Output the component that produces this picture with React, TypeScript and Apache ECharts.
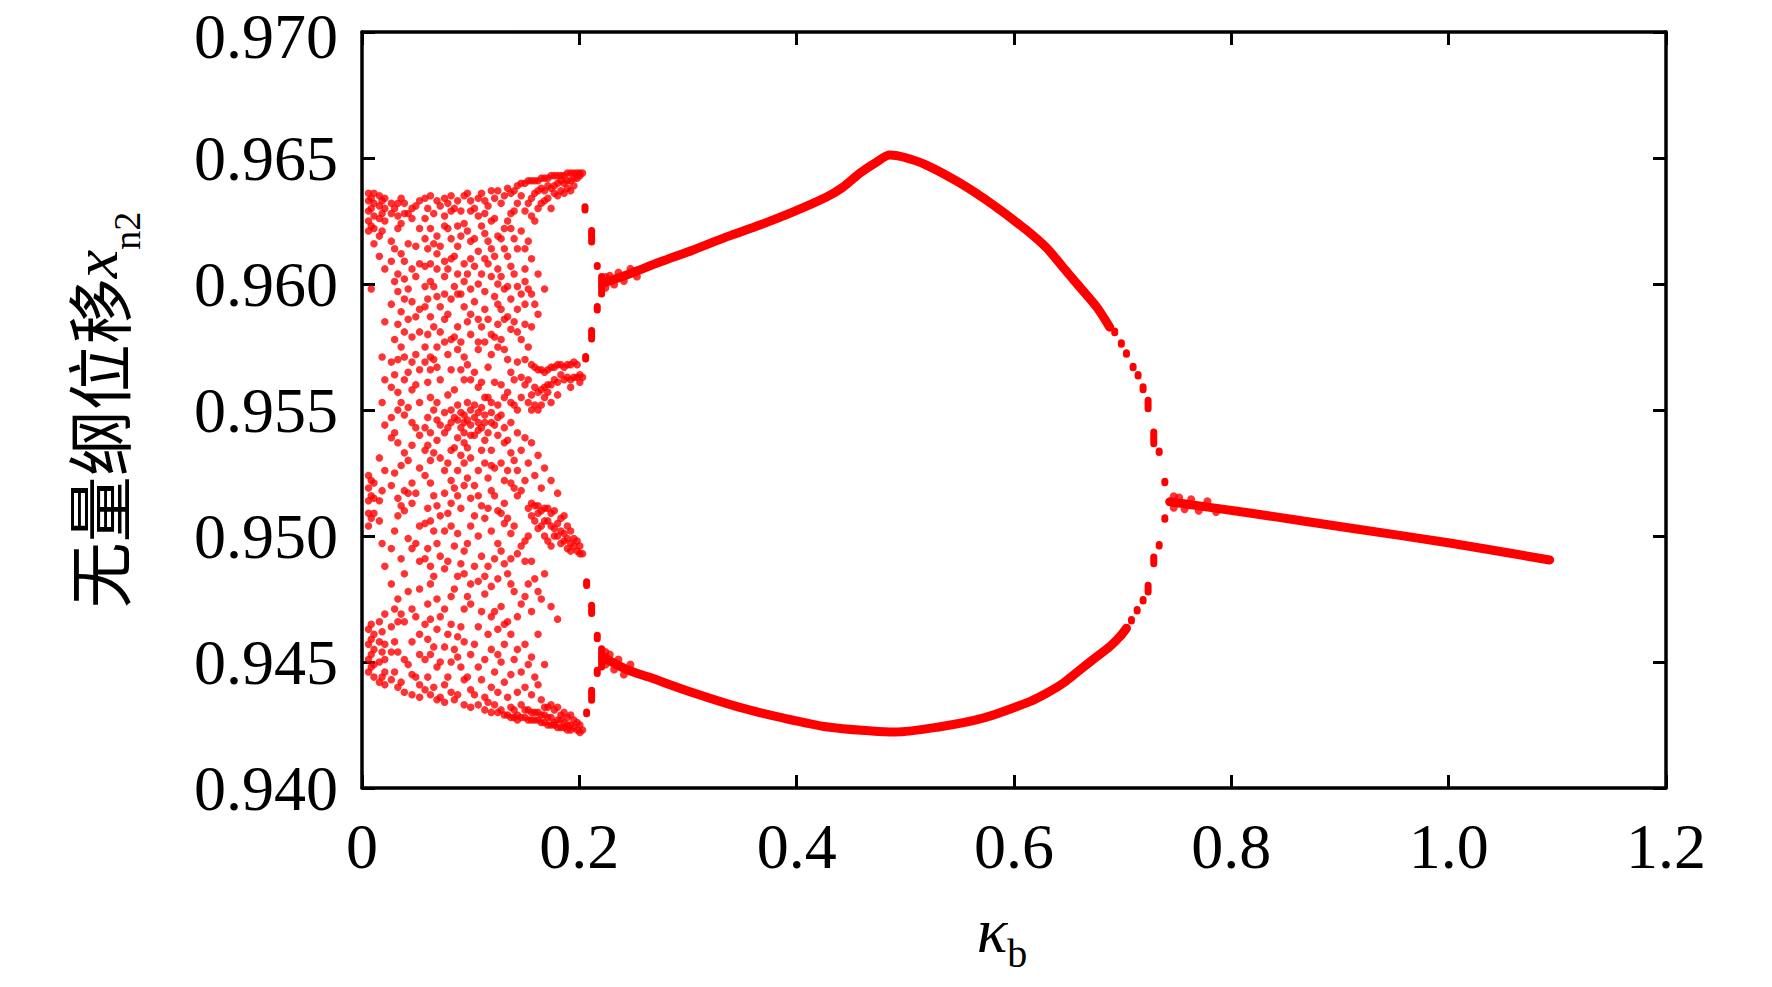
import React, { useEffect, useRef } from "react";
import * as echarts from "echarts";

// ---- axes ----
const xMin = 0;
const xMax = 1.2;
const xStep = 0.2;
const yMin = 0.94;
const yMax = 0.97;
const yStep = 0.005;

// ---- chaotic region: parameter values (columns) and the sampled x_n2 values ----
const chaosX = [
  0.006, 0.011, 0.016, 0.021, 0.027, 0.033, 0.039, 0.046, 0.053, 0.058, 0.063, 0.069,
  0.076, 0.082, 0.088, 0.094, 0.1, 0.107, 0.113, 0.119, 0.125, 0.131, 0.137, 0.143,
  0.15, 0.156, 0.162, 0.168, 0.174, 0.18, 0.186, 0.192, 0.198, 0.203,
];
const chaosY = [
  [0.9636, 0.9633, 0.9629, 0.9625, 0.9621, 0.9524, 0.9519, 0.9514, 0.9509, 0.9504, 0.9463, 0.9457, 0.9451, 0.9446],
  [0.9636, 0.9632, 0.9627, 0.9622, 0.9616, 0.9521, 0.9515, 0.9509, 0.9461, 0.9455, 0.9449, 0.9444],
  [0.9635, 0.9631, 0.9626, 0.9619, 0.9611, 0.9531, 0.9514, 0.9506, 0.9466, 0.9458, 0.945, 0.9442],
  [0.9634, 0.963, 0.9625, 0.9606, 0.9585, 0.9562, 0.9544, 0.9526, 0.9488, 0.9469, 0.9457, 0.9451, 0.9446, 0.9441],
  [0.9632, 0.9628, 0.9617, 0.9609, 0.9592, 0.9569, 0.9559, 0.9547, 0.9539, 0.952, 0.9495, 0.9481, 0.9464, 0.9454, 0.9443],
  [0.9632, 0.9627, 0.9622, 0.9604, 0.9597, 0.9584, 0.957, 0.9557, 0.955, 0.9537, 0.9515, 0.9508, 0.9475, 0.9466, 0.9454, 0.944],
  [0.9632, 0.9628, 0.9609, 0.9602, 0.9594, 0.9581, 0.9571, 0.9562, 0.9548, 0.9533, 0.9518, 0.951, 0.9485, 0.9466, 0.9451, 0.9438],
  [0.963, 0.9626, 0.9606, 0.9593, 0.9579, 0.9569, 0.9558, 0.9545, 0.9536, 0.9521, 0.9513, 0.9495, 0.9471, 0.9458, 0.9445, 0.9437],
  [0.9633, 0.9622, 0.9608, 0.959, 0.9581, 0.9566, 0.9553, 0.954, 0.9527, 0.9504, 0.949, 0.9479, 0.9461, 0.9453, 0.9441, 0.9436],
  [0.9634, 0.9626, 0.9618, 0.9607, 0.9599, 0.9591, 0.9575, 0.9569, 0.9543, 0.9534, 0.9524, 0.9505, 0.9491, 0.9465, 0.9451, 0.9439],
  [0.9635, 0.9622, 0.9608, 0.9601, 0.9587, 0.9571, 0.9566, 0.9555, 0.9541, 0.953, 0.9521, 0.9506, 0.9488, 0.9481, 0.9467, 0.9453, 0.9437],
  [0.9633, 0.9619, 0.9612, 0.9606, 0.9595, 0.9575, 0.9567, 0.9553, 0.9546, 0.9538, 0.9512, 0.9497, 0.9475, 0.9463, 0.9448, 0.9435],
  [0.9634, 0.9627, 0.9623, 0.9609, 0.9603, 0.9596, 0.9586, 0.9577, 0.9549, 0.9541, 0.9526, 0.9517, 0.9502, 0.9487, 0.9471, 0.9456, 0.9441, 0.9434],
  [0.9635, 0.9629, 0.9618, 0.961, 0.9594, 0.9578, 0.9566, 0.955, 0.9545, 0.9534, 0.9522, 0.9513, 0.9504, 0.9476, 0.9465, 0.945, 0.9438],
  [0.9633, 0.9623, 0.9615, 0.9604, 0.9596, 0.9583, 0.9574, 0.9552, 0.9546, 0.9539, 0.9526, 0.9516, 0.9501, 0.9484, 0.946, 0.9452, 0.9437],
  [0.9635, 0.9624, 0.9608, 0.9601, 0.9591, 0.9571, 0.9562, 0.9548, 0.9545, 0.9541, 0.9537, 0.9529, 0.952, 0.9494, 0.9485, 0.9471, 0.9458, 0.9443, 0.9433],
  [0.9633, 0.9629, 0.9617, 0.961, 0.9598, 0.9588, 0.958, 0.9562, 0.955, 0.9544, 0.954, 0.9531, 0.9515, 0.9504, 0.9481, 0.9473, 0.9453, 0.9439, 0.9432],
  [0.9634, 0.9627, 0.9613, 0.96, 0.9586, 0.9577, 0.9574, 0.9559, 0.9549, 0.9545, 0.9542, 0.9526, 0.9516, 0.95, 0.9482, 0.9464, 0.9448, 0.9433],
  [0.9633, 0.9628, 0.962, 0.961, 0.9597, 0.959, 0.9577, 0.9555, 0.9548, 0.9545, 0.9538, 0.9529, 0.9507, 0.9484, 0.9477, 0.9451, 0.9436, 0.9431],
  [0.9637, 0.9625, 0.9614, 0.9603, 0.958, 0.9572, 0.9553, 0.9549, 0.9545, 0.9534, 0.9528, 0.9518, 0.9502, 0.948, 0.9468, 0.9455, 0.944, 0.943],
  [0.9637, 0.9619, 0.9606, 0.96, 0.9592, 0.9584, 0.9575, 0.9552, 0.9547, 0.954, 0.951, 0.9497, 0.9483, 0.9463, 0.9453, 0.9438, 0.943],
  [0.9635, 0.9622, 0.9614, 0.9598, 0.9586, 0.9574, 0.9555, 0.9543, 0.9537, 0.9522, 0.9513, 0.9505, 0.9489, 0.9465, 0.9457, 0.9442, 0.9429],
  [0.9636, 0.9628, 0.9622, 0.9607, 0.9594, 0.9582, 0.9565, 0.9553, 0.9545, 0.9533, 0.9521, 0.9501, 0.9491, 0.9481, 0.9461, 0.9445, 0.9432, 0.9428],
  [0.9639, 0.9632, 0.9614, 0.9599, 0.959, 0.9581, 0.9569, 0.955, 0.9541, 0.9526, 0.9516, 0.9493, 0.9468, 0.9455, 0.9438, 0.9429, 0.9427],
  [0.964, 0.9629, 0.9614, 0.9606, 0.9601, 0.9592, 0.9584, 0.957, 0.956, 0.9539, 0.9522, 0.9498, 0.949, 0.9476, 0.9457, 0.944, 0.9431, 0.9428],
  [0.9641, 0.9634, 0.9627, 0.961, 0.9596, 0.9583, 0.9568, 0.9556, 0.955, 0.9537, 0.9513, 0.9508, 0.949, 0.947, 0.9452, 0.9437, 0.943, 0.9427],
  [0.9641, 0.9637, 0.963, 0.9604, 0.9588, 0.9566, 0.9557, 0.955, 0.9532, 0.9512, 0.9509, 0.9503, 0.9478, 0.9461, 0.9441, 0.943, 0.9427],
  [0.9642, 0.9637, 0.9633, 0.9598, 0.9565, 0.9559, 0.9555, 0.9527, 0.9511, 0.9506, 0.95, 0.9485, 0.9449, 0.9432, 0.9429, 0.9426],
  [0.9643, 0.9638, 0.963, 0.9567, 0.956, 0.9553, 0.9522, 0.9509, 0.9504, 0.9496, 0.9472, 0.9433, 0.9428, 0.9425],
  [0.9643, 0.964, 0.9635, 0.9568, 0.9561, 0.9556, 0.9517, 0.9505, 0.95, 0.9467, 0.9432, 0.9427, 0.9424],
  [0.9643, 0.964, 0.9636, 0.9567, 0.9562, 0.9508, 0.9501, 0.9498, 0.943, 0.9426, 0.9424],
  [0.9644, 0.9641, 0.9637, 0.9568, 0.9562, 0.9559, 0.9502, 0.9497, 0.9494, 0.9429, 0.9425, 0.9423],
  [0.9644, 0.9642, 0.9568, 0.9563, 0.9498, 0.9494, 0.9426, 0.9423],
  [0.9644, 0.9563, 0.9493, 0.9423],
];

// ---- chaotic region: in-between parameter values ----
const chaosX2 = [
  0.0085, 0.0185, 0.03, 0.036, 0.0425, 0.0495, 0.0605, 0.066, 0.072, 0.079, 0.085, 0.091,
  0.097, 0.1035, 0.11, 0.116, 0.122, 0.128, 0.134, 0.14, 0.1465, 0.153, 0.159, 0.165,
  0.171, 0.177, 0.183, 0.189, 0.195, 0.2005,
];
const chaosY2 = [
  [0.9634, 0.963, 0.9623, 0.9598, 0.9522, 0.9516, 0.9507, 0.9465, 0.9459, 0.9453, 0.9448],
  [0.9633, 0.9628, 0.9621, 0.9571, 0.9553, 0.9518, 0.9497, 0.9462, 0.9454, 0.9444],
  [0.963, 0.9614, 0.9601, 0.9578, 0.9564, 0.9541, 0.9525, 0.9502, 0.9471, 0.9458, 0.9446],
  [0.9634, 0.9624, 0.9612, 0.9589, 0.9575, 0.9553, 0.9528, 0.9512, 0.9491, 0.9469, 0.9442],
  [0.9628, 0.9616, 0.9598, 0.9586, 0.9565, 0.9551, 0.953, 0.9517, 0.9499, 0.9478, 0.9449],
  [0.9631, 0.9615, 0.9603, 0.9587, 0.9572, 0.956, 0.9543, 0.9517, 0.9497, 0.9468, 0.9444],
  [0.963, 0.9614, 0.9594, 0.958, 0.9561, 0.9547, 0.9536, 0.9511, 0.9495, 0.9473, 0.9459, 0.9444],
  [0.9628, 0.9616, 0.9599, 0.9583, 0.957, 0.955, 0.9533, 0.9516, 0.9502, 0.9484, 0.9456, 0.944],
  [0.9631, 0.9615, 0.9591, 0.9581, 0.9562, 0.9544, 0.9531, 0.9508, 0.9492, 0.9468, 0.945, 0.9436],
  [0.9632, 0.9622, 0.9606, 0.9588, 0.9572, 0.9556, 0.9543, 0.9529, 0.9509, 0.949, 0.9461, 0.9444],
  [0.963, 0.9611, 0.9599, 0.9579, 0.9558, 0.9547, 0.9535, 0.9519, 0.9496, 0.9479, 0.9455, 0.9435],
  [0.9629, 0.9619, 0.9596, 0.9577, 0.9566, 0.9549, 0.9543, 0.9532, 0.9511, 0.9489, 0.9464, 0.9448],
  [0.9636, 0.9621, 0.9604, 0.9585, 0.9568, 0.9553, 0.9546, 0.9535, 0.9523, 0.9497, 0.9476, 0.9444],
  [0.963, 0.9618, 0.9607, 0.9593, 0.9565, 0.9552, 0.9547, 0.954, 0.952, 0.9508, 0.9488, 0.9457, 0.9437],
  [0.9636, 0.9623, 0.9604, 0.9583, 0.9561, 0.9551, 0.9543, 0.9534, 0.9512, 0.9492, 0.947, 0.9443],
  [0.9631, 0.9617, 0.9608, 0.9586, 0.9567, 0.9555, 0.9541, 0.9523, 0.9511, 0.9488, 0.9461, 0.9434],
  [0.9634, 0.9626, 0.9611, 0.9595, 0.9579, 0.9561, 0.9544, 0.9527, 0.9516, 0.9491, 0.947, 0.9446, 0.9433],
  [0.9632, 0.9618, 0.9603, 0.959, 0.9578, 0.956, 0.9548, 0.9529, 0.9509, 0.9494, 0.9472, 0.945, 0.9431],
  [0.9638, 0.9625, 0.9611, 0.9599, 0.9587, 0.957, 0.9557, 0.9538, 0.9526, 0.9507, 0.9485, 0.9466, 0.9436, 0.9429],
  [0.9637, 0.9629, 0.9618, 0.9604, 0.9585, 0.9562, 0.9552, 0.953, 0.9519, 0.9504, 0.9478, 0.9451, 0.9431, 0.9428],
  [0.964, 0.9635, 0.9621, 0.9596, 0.9578, 0.9563, 0.9555, 0.9534, 0.9518, 0.9496, 0.9473, 0.9446, 0.9433, 0.9428],
  [0.9641, 0.9632, 0.9617, 0.9598, 0.9575, 0.9562, 0.9553, 0.9529, 0.9511, 0.95, 0.9481, 0.9449, 0.9431, 0.9427],
  [0.9641, 0.9636, 0.9625, 0.9592, 0.9567, 0.9559, 0.9552, 0.9524, 0.9512, 0.9506, 0.9483, 0.9444, 0.943, 0.9427],
  [0.9642, 0.9638, 0.9632, 0.9566, 0.9558, 0.9552, 0.9519, 0.951, 0.9504, 0.9475, 0.9435, 0.9429, 0.9426],
  [0.9642, 0.9639, 0.9634, 0.9566, 0.956, 0.9557, 0.9511, 0.9506, 0.9498, 0.9432, 0.9428, 0.9425],
  [0.9643, 0.9639, 0.9636, 0.9567, 0.9562, 0.951, 0.9503, 0.95, 0.9431, 0.9426, 0.9425],
  [0.9643, 0.9641, 0.9637, 0.9568, 0.9564, 0.9507, 0.9502, 0.9497, 0.9429, 0.9427, 0.9424],
  [0.9644, 0.9641, 0.9638, 0.9568, 0.9563, 0.9504, 0.9499, 0.9495, 0.9428, 0.9425, 0.9423],
  [0.9644, 0.9642, 0.9639, 0.9569, 0.9563, 0.9499, 0.9496, 0.9427, 0.9424],
  [0.9644, 0.9643, 0.9564, 0.9561, 0.9496, 0.9493, 0.9425, 0.9422],
];

// ---- transient scatter hugging the starts of the branches ----
const fuzzX = [
  0.224, 0.224, 0.228, 0.232, 0.236, 0.241, 0.247, 0.253,
  0.224, 0.224, 0.228, 0.232, 0.236, 0.241, 0.247,
  0.747, 0.747, 0.752, 0.757, 0.763, 0.77, 0.778, 0.786,
];
const fuzzY = [
  0.95985, 0.96028, 0.96033, 0.95998, 0.96045, 0.96012, 0.9606, 0.9603,
  0.9454, 0.9449, 0.9453, 0.9447, 0.9451, 0.9445, 0.9449,
  0.95158, 0.95112, 0.95153, 0.95106, 0.95146, 0.951, 0.95138, 0.95095,
];

// ---- period-2 upper branch ----
const upperX = [0.222, 0.2435, 0.2741, 0.3048, 0.3355, 0.3661, 0.3968, 0.4275, 0.4428, 0.4582, 0.4735, 0.4857, 0.498, 0.5194, 0.5501, 0.5808, 0.6114, 0.63, 0.645, 0.6605, 0.676, 0.688];
const upperY = [0.96004, 0.96036, 0.96087, 0.96135, 0.96187, 0.96234, 0.96286, 0.96345, 0.96385, 0.9644, 0.96484, 0.96512, 0.96504, 0.96472, 0.96401, 0.96314, 0.96214, 0.96143, 0.96067, 0.95988, 0.95909, 0.95829];

// ---- period-2 lower branch ----
const lowerX = [0.2215, 0.2438, 0.264, 0.3054, 0.3468, 0.3873, 0.4287, 0.4692, 0.4903, 0.5308, 0.5722, 0.6145, 0.6299, 0.645, 0.6605, 0.676, 0.6881, 0.6973, 0.7035];
const lowerY = [0.9452, 0.9447, 0.9444, 0.94377, 0.94321, 0.94278, 0.94242, 0.94226, 0.94222, 0.94242, 0.94278, 0.94343, 0.94376, 0.94415, 0.94468, 0.94521, 0.94561, 0.946, 0.94634];

// ---- period-1 branch ----
const p1X = [0.7433, 0.8169, 0.9089, 1.0009, 1.0929];
const p1Y = [0.95136, 0.95091, 0.95032, 0.94972, 0.94905];

// ---- sparse samples drawn as short vertical dashes: x, y top, y bottom ----
const dashX = [
  0.2052, 0.2113, 0.2165, 0.2205, 0.2165, 0.2113, 0.2058,
  0.2067, 0.2113, 0.2165, 0.2205, 0.2165, 0.2113, 0.2067,
  0.6927, 0.6988, 0.7035, 0.7096, 0.7142, 0.7188, 0.7234, 0.7286, 0.7336, 0.7388,
  0.7388, 0.7336, 0.7286, 0.7234, 0.7188, 0.7133, 0.7081,
];
const dashTop = [
  0.96307, 0.96212, 0.96073, 0.9603, 0.95911, 0.95815, 0.95712,
  0.94818, 0.94725, 0.94606, 0.94553, 0.94467, 0.94388, 0.94302,
  0.95813, 0.95767, 0.95727, 0.95674, 0.95641, 0.95592, 0.95539, 0.95413, 0.95337, 0.95217,
  0.95072, 0.94966, 0.94917, 0.94805, 0.94748, 0.94708, 0.94669,
];
const dashBottom = [
  0.96296, 0.96169, 0.96071, 0.95962, 0.95899, 0.95784, 0.95704,
  0.94806, 0.94694, 0.94594, 0.94482, 0.94456, 0.9435, 0.94297,
  0.95809, 0.95763, 0.95723, 0.9567, 0.95637, 0.95582, 0.95507, 0.95368, 0.95333, 0.95213,
  0.95068, 0.94962, 0.94892, 0.9478, 0.94744, 0.94704, 0.94665,
];

const RED = "#ff0000";
const SERIF = "'Times New Roman', 'Liberation Serif', serif";

function buildOption() {
  const chaosData: number[][] = [];
  chaosX.forEach((x, i) => chaosY[i].forEach((y) => chaosData.push([x, y])));
  chaosX2.forEach((x, i) => chaosY2[i].forEach((y) => chaosData.push([x, y])));
  const fuzzData = fuzzX.map((x, i) => [x, fuzzY[i]]);
  const upperData = upperX.map((x, i) => [x, upperY[i]]);
  const lowerData = lowerX.map((x, i) => [x, lowerY[i]]);
  const p1Data = p1X.map((x, i) => [x, p1Y[i]]);
  const dashData = dashX.map((x, i) => [x, dashTop[i], dashBottom[i]]);

  const axisLine = { show: true, onZero: false, lineStyle: { color: "#000", width: 3.5 } };
  const axisTick = { show: true, inside: true, length: 13, lineStyle: { color: "#000", width: 3 } };
  const branchStyle = { color: RED, width: 9, cap: "round", join: "round" };

  return {
    animation: false,
    backgroundColor: "#fff",
    grid: { left: 362, right: 106, top: 32, bottom: 199, containLabel: false, outerBoundsMode: "none" },
    xAxis: [
      {
        type: "value",
        min: xMin,
        max: xMax,
        interval: xStep,
        position: "bottom",
        axisLine,
        axisTick,
        splitLine: { show: false },
        axisLabel: {
          fontFamily: SERIF,
          fontSize: 64,
          color: "#000",
          margin: 26,
          formatter: (v: number) => (v === 0 ? "0" : v.toFixed(1)),
        },
        name: "{k|κ}{sub|b}",
        nameLocation: "middle",
        nameGap: 110,
        nameTextStyle: {
          rich: {
            k: { fontFamily: SERIF, fontStyle: "italic", fontSize: 64, color: "#000", verticalAlign: "top" },
            sub: { fontFamily: SERIF, fontSize: 40, color: "#000", verticalAlign: "top", padding: [35, 24, 0, 0] },
          },
        },
      },
      {
        type: "value",
        min: xMin,
        max: xMax,
        interval: xStep,
        position: "top",
        axisLine,
        axisTick,
        splitLine: { show: false },
        axisLabel: { show: false },
      },
    ],
    yAxis: [
      {
        type: "value",
        min: yMin,
        max: yMax,
        interval: yStep,
        position: "left",
        axisLine,
        axisTick,
        splitLine: { show: false },
        axisLabel: {
          fontFamily: SERIF,
          fontSize: 64,
          lineHeight: 56,
          color: "#000",
          margin: 24,
          formatter: (v: number) => (Math.abs(v - yMax) < 1e-9 ? "{t|" + v.toFixed(3) + "}" : v.toFixed(3)),
          rich: {
            t: { fontFamily: SERIF, fontSize: 64, lineHeight: 56, color: "#000", padding: [8, 0, 0, 0] },
          },
        },
        name: "{cn|无量纲位移}{it|x}{sub|n2}",
        nameLocation: "middle",
        nameGap: 216,
        nameRotate: 90,
        nameTextStyle: {
          rich: {
            cn: { fontFamily: "'Noto Sans CJK SC'", fontSize: 66, color: "#000", verticalAlign: "top" },
            it: { fontFamily: SERIF, fontStyle: "italic", fontSize: 64, color: "#000", verticalAlign: "top" },
            sub: { fontFamily: SERIF, fontSize: 38, color: "#000", verticalAlign: "top", padding: [45, 0, 0, 0] },
          },
        },
      },
      {
        type: "value",
        min: yMin,
        max: yMax,
        interval: yStep,
        position: "right",
        axisLine,
        axisTick,
        splitLine: { show: false },
        axisLabel: { show: false },
      },
    ],
    series: [
      {
        type: "scatter",
        data: chaosData,
        symbol: "circle",
        symbolSize: 7.5,
        itemStyle: { color: RED },
        silent: true,
      },
      {
        type: "scatter",
        data: fuzzData,
        symbol: "circle",
        symbolSize: 8,
        itemStyle: { color: RED },
        silent: true,
      },
      { type: "line", data: upperData, smooth: 0.3, showSymbol: false, symbol: "none", lineStyle: branchStyle, silent: true },
      { type: "line", data: lowerData, smooth: 0.3, showSymbol: false, symbol: "none", lineStyle: branchStyle, silent: true },
      { type: "line", data: p1Data, smooth: 0.3, showSymbol: false, symbol: "none", lineStyle: branchStyle, silent: true },
      {
        type: "custom",
        data: dashData,
        encode: { x: 0, y: [1, 2] },
        silent: true,
        renderItem: (_params: any, api: any) => {
          const p1 = api.coord([api.value(0), api.value(1)]);
          const p2 = api.coord([api.value(0), api.value(2)]);
          return {
            type: "line",
            shape: { x1: p1[0], y1: p1[1], x2: p2[0], y2: p2[1] + 0.5 },
            style: { stroke: RED, lineWidth: 7, lineCap: "round" },
          };
        },
      },
    ],
  };
}

export default function App() {
  const ref = useRef<HTMLDivElement>(null);
  useEffect(() => {
    if (!ref.current) return;
    const chart = echarts.init(ref.current, null, { renderer: "svg" });
    chart.setOption(buildOption() as any);
    return () => chart.dispose();
  }, []);
  return (
    <div
      ref={ref}
      style={{ position: "fixed", left: 0, top: 0, width: 1772, height: 987, background: "#fff" }}
    />
  );
}
